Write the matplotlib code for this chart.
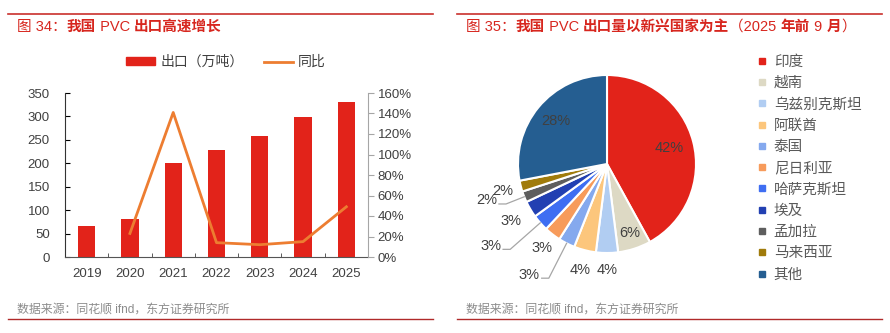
import numpy as np
import matplotlib
matplotlib.use('Agg')
import matplotlib.pyplot as plt
from matplotlib.lines import Line2D
from matplotlib.patches import Patch

plt.rcParams['font.family'] = ['Liberation Sans', 'Noto Sans CJK SC', 'DejaVu Sans']

# ---- data: left chart ----
years = ['2019', '2020', '2021', '2022', '2023', '2024', '2025']
export_vol = [67, 82, 200, 229, 258, 299, 330]            # 万吨
yoy = [np.nan, 23, 141, 14, 12, 15, 49]                    # %

# ---- data: right chart ----
countries = ['印度', '越南', '乌兹别克斯坦', '阿联酋', '泰国', '尼日利亚',
             '哈萨克斯坦', '埃及', '孟加拉', '马来西亚', '其他']
shares = [42, 6, 4, 4, 3, 3, 3, 3, 2, 2, 28]
pie_colors = ['#E2231A', '#DDD9C4', '#B1CDF2', '#FCC67C', '#85A9EE', '#F79B5B',
              '#3F6EF2', '#2240B2', '#5E5E5E', '#A07B0B', '#255E91']

# title pieces: (text, bold)
title_l = [('图 34：', False), ('我国', True), (' PVC ', False), ('出口高速增长', True)]
title_r = [('图 35：', False), ('我国', True), (' PVC ', False), ('出口量以新兴国家为主', True),
           ('（2025 ', False), ('年前', True), (' 9 ', False), ('月', True), ('）', False)]

RED = '#E2231A'
ORANGE = '#ED7D31'
TXT = '#404040'
W, H = 890, 333

fig = plt.figure(figsize=(W / 100, H / 100), dpi=100)
renderer = fig.canvas.get_renderer()


def px_axes(x0, y0, w, h):
    return fig.add_axes([x0 / W, 1 - (y0 + h) / H, w / W, h / H])


def hline(x0, x1, y, color, lw):
    fig.add_artist(Line2D([x0 / W, x1 / W], [1 - y / H, 1 - y / H],
                          color=color, lw=lw, transform=fig.transFigure))


def pieced_title(x, y, pieces):
    for txt, bold in pieces:
        t = fig.text(x / W, 1 - y / H, txt, color='#D7261E', fontsize=10.5,
                     fontweight='bold' if bold else 'normal', va='center')
        x += t.get_window_extent(renderer).width


# frame lines, titles, sources
for x0, x1 in [(8, 433), (457, 882)]:
    hline(x0, x1, 14, '#C9302C', 1.2)
    hline(x0, x1, 319, '#B02A2A', 1.0)

pieced_title(17, 27, title_l)
pieced_title(466, 27, title_r)
for x in [17, 466]:
    fig.text(x / W, 1 - 310 / H, '数据来源：同花顺 ifnd，东方证券研究所',
             color='#8C8C8C', fontsize=8.6, va='center')

# ---- left: bar + line ----
ax = px_axes(65, 93, 303, 164)
xs = np.arange(len(years))
ax.bar(xs, export_vol, width=0.4, color=RED, zorder=2)
ax.set_xlim(-0.5, len(years) - 0.5)
ax.set_ylim(0, 350)
ax.set_yticks(range(0, 351, 50))
ax.set_xticks(xs)
ax.set_xticklabels(years)
ax.set_xticks(np.arange(0.5, len(years) - 1, 1), minor=True)
ax.tick_params(axis='x', which='major', length=0, labelsize=9.5, labelcolor=TXT, pad=8)
ax.tick_params(axis='x', which='minor', direction='in', length=3, color='#404040')
ax.tick_params(axis='y', direction='in', length=3.5, labelsize=9.5, labelcolor=TXT, pad=11)
for s in ['top', 'right']:
    ax.spines[s].set_visible(False)
ax.spines['left'].set_color('#333333')
ax.spines['bottom'].set_color('#555555')

ax2 = ax.twinx()
ax2.plot(xs, yoy, color=ORANGE, lw=2, zorder=3)
ax2.set_ylim(0, 160)
ax2.set_yticks(range(0, 161, 20))
ax2.set_yticklabels(['%d%%' % v for v in range(0, 161, 20)])
ax2.tick_params(axis='y', direction='out', length=4, color='#A6A6A6',
                labelsize=9.5, labelcolor=TXT, pad=3)
for s in ['top', 'left', 'bottom']:
    ax2.spines[s].set_visible(False)
ax2.spines['right'].set_color('#A6A6A6')

handles = [Patch(color=RED, label='出口（万吨）'),
           Line2D([], [], color=ORANGE, lw=2, label='同比')]
fig.legend(handles=handles, ncol=2, loc='center', bbox_to_anchor=(226 / W, 1 - 62 / H),
           frameon=False, fontsize=10, handlelength=2.1, handleheight=0.45,
           columnspacing=1.5, handletextpad=0.35, labelcolor=TXT)

# ---- right: pie ----
R = 89
pax = px_axes(607 - 1.4 * R, 164 - 1.4 * R, 2.8 * R, 2.8 * R)
wedges, _ = pax.pie(shares, colors=pie_colors, startangle=90, counterclock=False,
                    wedgeprops=dict(edgecolor='white', linewidth=1.5))
pax.set_xlim(-1.4, 1.4)
pax.set_ylim(-1.4, 1.4)
pax.set_aspect('equal')
pax.axis('off')

# label radius for each slice; None for leader-line labels
lab_r = [0.72, 0.81, 1.19, 1.23, None, 1.19, None, 1.26, None, 1.21, 0.75]
lead_r = {4: 1.44, 6: 1.45, 8: 1.22}
for i, (w, v) in enumerate(zip(wedges, shares)):
    ang = np.deg2rad((w.theta1 + w.theta2) / 2)
    c, s = np.cos(ang), np.sin(ang)
    if lab_r[i] is not None:
        pax.text(lab_r[i] * c, lab_r[i] * s, '%d%%' % v, ha='center', va='center',
                 fontsize=10.5, color=TXT)
    else:
        re = lead_r[i]
        ex, ey = re * c, re * s
        pax.plot([1.0 * c, ex, ex - 0.08], [1.0 * s, ey, ey], color='#A6A6A6',
                 lw=0.9, clip_on=False)
        pax.text(ex - 0.1, ey + 0.04, '%d%%' % v, ha='right', va='center',
                 fontsize=10.5, color=TXT)

leg_handles = [Line2D([], [], marker='s', ls='', markersize=4.5, color=c, label=n)
               for c, n in zip(pie_colors, countries)]
fig.legend(handles=leg_handles, loc='upper left', bbox_to_anchor=(752 / W, 1 - 49 / H),
           frameon=False, fontsize=10.5, handlelength=0.6, handletextpad=0.5,
           labelspacing=0.5, labelcolor='#595959', borderaxespad=0)

plt.savefig('out.png', dpi=100)
